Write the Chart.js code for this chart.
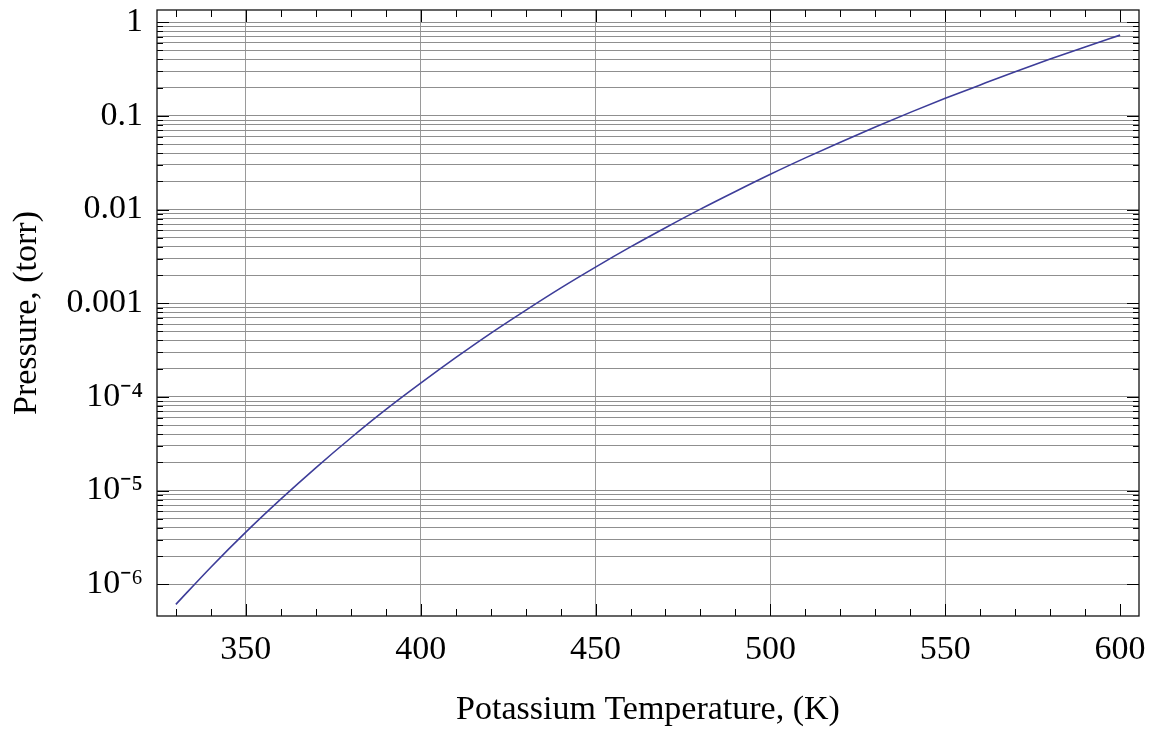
<!DOCTYPE html>
<html><head><meta charset="utf-8">
<script src="https://cdn.jsdelivr.net/npm/chart.js@4/dist/chart.umd.min.js"></script>
<style>html,body{margin:0;padding:0;background:#fff;} canvas{display:block;}</style>
</head><body>
<canvas id="c" width="1153" height="731"></canvas>
<script>
const temperatures = [330, 340, 350, 360, 370, 380, 390, 400, 410, 420, 430, 440, 450, 460, 470, 480, 490, 500, 510, 520, 530, 540, 550, 560, 570, 580, 590, 600];
const pressures = [6.1e-7, 1.52e-6, 3.6e-6, 8.1e-6, 1.75e-5, 3.64e-5, 7.3e-5, 1.40e-4, 2.62e-4, 4.77e-4, 8.4e-4, 1.45e-3, 2.43e-3, 3.99e-3, 6.4e-3, 1.01e-2, 1.56e-2, 2.38e-2, 3.56e-2, 5.24e-2, 7.6e-2, 0.109, 0.154, 0.214, 0.296, 0.404, 0.545, 0.728];
const xMajorTicks = [350, 400, 450, 500, 550, 600];
const xAllTicks = [330, 340, 350, 360, 370, 380, 390, 400, 410, 420, 430, 440, 450, 460, 470, 480, 490, 500, 510, 520, 530, 540, 550, 560, 570, 580, 590, 600];
const xGridValues = [350, 400, 450, 500, 550];
const yDecadeValues = [1, 0.1, 0.01, 0.001, 1e-4, 1e-5, 1e-6];
const yDecadeLabels = ['1', '0.1', '0.01', '0.001', '10\u207B\u2074', '10\u207B\u2075', '10\u207B\u2076'];
const yMantissas = [1, 2, 3, 4, 5, 6, 7, 8, 9];

const FONT = 'Liberation Serif, Times New Roman, serif';
const isDecade = v => yDecadeValues.findIndex(d => Math.abs(d - v) / d < 1e-6);

const yTickValues = [];
yDecadeValues.forEach(d => {
  yMantissas.forEach(m => { const v = d * m; if (v <= 1 + 1e-9) yTickValues.push(v); });
});

const frameTicks = {
  id: 'frameTicks',
  afterDraw(chart) {
    const {ctx, chartArea: {left, right, top, bottom}, scales: {x, y}} = chart;
    ctx.save();
    ctx.strokeStyle = '#000';
    ctx.lineWidth = 1;
    const line = (a, b, c, d) => { ctx.beginPath(); ctx.moveTo(a, b); ctx.lineTo(c, d); ctx.stroke(); };
    x.ticks.forEach(t => {
      const px = Math.round(x.getPixelForValue(t.value)) + 0.5;
      const len = xMajorTicks.includes(t.value) ? 12 : 7;
      line(px, bottom, px, bottom - len);
      line(px, top, px, top + len);
    });
    y.ticks.forEach(t => {
      const py = Math.round(y.getPixelForValue(t.value)) + 0.5;
      const len = isDecade(t.value) >= 0 ? 12 : 6;
      line(left, py, left + len, py);
      line(right, py, right - len, py);
    });
    ctx.strokeStyle = '#111';
    ctx.lineWidth = 1.3;
    ctx.strokeRect(left, top, right - left, bottom - top);
    ctx.restore();
  }
};

new Chart(document.getElementById('c'), {
  type: 'line',
  data: {
    datasets: [{
      data: temperatures.map((t, i) => ({x: t, y: pressures[i]})),
      borderColor: '#3d3d99',
      borderWidth: 1.6,
      pointRadius: 0,
      cubicInterpolationMode: 'monotone',
      fill: false
    }]
  },
  options: {
    responsive: false,
    animation: false,
    events: [],
    layout: {padding: {top: 10, right: 14, left: 0, bottom: 0}},
    plugins: {legend: {display: false}, tooltip: {enabled: false}},
    scales: {
      x: {
        type: 'linear',
        min: 324.6,
        max: 605.4,
        afterBuildTicks: s => { s.ticks = xAllTicks.map(v => ({value: v})); },
        afterFit: s => { s.height = 115; s.paddingLeft = 0; s.paddingRight = 0; },
        ticks: {
          autoSkip: false, maxRotation: 0, minRotation: 0,
          callback: v => xMajorTicks.includes(v) ? String(v) : '',
          font: {family: FONT, size: 34}, color: '#000', padding: 14
        },
        grid: {
          drawTicks: false,
          color: c => (c.tick && xGridValues.includes(c.tick.value)) ? '#9a9a9a' : 'rgba(0,0,0,0)',
          lineWidth: 1
        },
        border: {display: false},
        title: {display: true, text: 'Potassium Temperature, (K)', color: '#000',
          font: {family: FONT, size: 34}, padding: {top: 0, bottom: 1}}
      },
      y: {
        type: 'logarithmic',
        min: 4.58e-7,
        max: 1.35,
        afterBuildTicks: s => { s.ticks = yTickValues.map(v => ({value: v})); },
        afterFit: s => { s.width = 157; s.paddingTop = 0; s.paddingBottom = 0; },
        ticks: {
          autoSkip: false,
          callback: v => { const i = isDecade(v); return i >= 0 ? yDecadeLabels[i] : ''; },
          font: {family: FONT, size: 34}, color: '#000', padding: 14
        },
        grid: {drawTicks: false, color: '#8f8f8f', lineWidth: 1},
        border: {display: false},
        title: {display: true, text: 'Pressure, (torr)', color: '#000',
          font: {family: FONT, size: 34}, padding: {top: 7, bottom: 0}}
      }
    }
  },
  plugins: [frameTicks]
});
</script>
</body></html>
